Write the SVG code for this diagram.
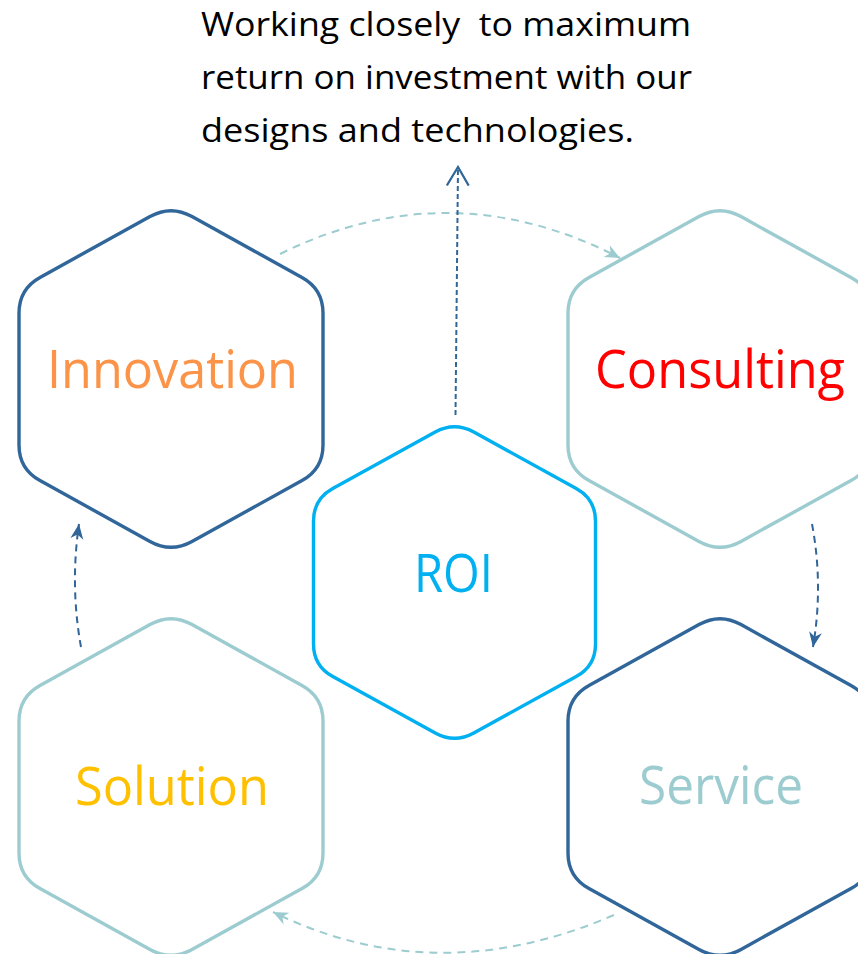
<svg xmlns="http://www.w3.org/2000/svg" xmlns:xlink="http://www.w3.org/1999/xlink" width="858" height="954" viewBox="0 0 858 954">
<style>
.hex{fill:#fff;stroke-width:3.4;stroke-linejoin:round}
.dark{stroke:#306699}
.teal{stroke:#9DCCD0}
.roi{stroke:#00B0F0}
.lbl{font-family:"Open Sans","Noto Sans","Liberation Sans",sans-serif;font-size:53px;text-anchor:middle}
.para{font-family:"Open Sans","Noto Sans","Liberation Sans",sans-serif;font-size:33px;fill:#000;white-space:pre}
.arcT{fill:none;stroke:#9DCCD0;stroke-width:2;stroke-dasharray:8 6}
.arcD{fill:none;stroke:#306699;stroke-width:2;stroke-dasharray:7 5}
.vert{fill:none;stroke:#306699;stroke-width:2;stroke-dasharray:5 3}
</style>
<defs>
<path id="hexL" d="M -21,-162.39 Q 0,-174 21,-162.39 L 131,-101.61 Q 152,-90 152,-66 L 152,66 Q 152,90 131,101.61 L 21,162.39 Q 0,174 -21,162.39 L -131,101.61 Q -152,90 -152,66 L -152,-66 Q -152,-90 -131,-101.61 Z"/>
<path id="hexS" d="M -19.28,-150.4 Q 0,-161 19.28,-150.4 L 121.72,-94.1 Q 141,-83.5 141,-61.5 L 141,61.5 Q 141,83.5 121.72,94.1 L 19.28,150.4 Q 0,161 -19.28,150.4 L -121.72,94.1 Q -141,83.5 -141,61.5 L -141,-61.5 Q -141,-83.5 -121.72,-94.1 Z"/>
<marker id="mTeal" markerUnits="userSpaceOnUse" markerWidth="17" markerHeight="14" refX="15" refY="6.5" orient="auto" viewBox="0 0 17 13">
<path d="M0,0 L15,6.5 L0,13 L4.5,6.5 Z" fill="#9DCCD0"/>
</marker>
<marker id="mDark" markerUnits="userSpaceOnUse" markerWidth="17" markerHeight="14" refX="15" refY="6.5" orient="auto" viewBox="0 0 17 13">
<path d="M0,0 L15,6.5 L0,13 L4.5,6.5 Z" fill="#306699"/>
</marker>
<marker id="mOpen" markerUnits="userSpaceOnUse" markerWidth="22" markerHeight="24" refX="18" refY="11" orient="auto" viewBox="0 0 20 22">
<path d="M1,1 L18,11 L1,21" fill="none" stroke="#306699" stroke-width="2"/>
</marker>
</defs>

<g id="caption">
<text class="para" x="201" y="36" textLength="490" lengthAdjust="spacingAndGlyphs">Working closely  to maximum</text>
<text class="para" x="201" y="89" textLength="491" lengthAdjust="spacingAndGlyphs">return on investment with our</text>
<text class="para" x="201" y="142" textLength="433" lengthAdjust="spacingAndGlyphs">designs and technologies.</text>
</g>

<g id="innovation">
<use xlink:href="#hexL" class="hex dark" transform="translate(171,379)"/>
<text class="lbl" x="172.5" y="388" fill="#FB9349" textLength="251" lengthAdjust="spacingAndGlyphs">Innovation</text>
</g>
<g id="consulting">
<use xlink:href="#hexL" class="hex teal" transform="translate(720,379)"/>
<text class="lbl" x="720" y="388" fill="#FF0000" textLength="250" lengthAdjust="spacingAndGlyphs">Consulting</text>
</g>
<g id="solution">
<use xlink:href="#hexL" class="hex teal" transform="translate(171,787)"/>
<text class="lbl" x="172" y="805" fill="#FFC000" textLength="194" lengthAdjust="spacingAndGlyphs">Solution</text>
</g>
<g id="service">
<use xlink:href="#hexL" class="hex dark" transform="translate(720,787)"/>
<text class="lbl" x="721" y="804" fill="#9DCCD0" textLength="164" lengthAdjust="spacingAndGlyphs">Service</text>
</g>
<g id="roi">
<use xlink:href="#hexS" class="hex roi" transform="translate(454.5,582.5)"/>
<text class="lbl" x="453.5" y="591.5" fill="#00B0F0" textLength="79" lengthAdjust="spacingAndGlyphs">ROI</text>
</g>

<g id="connectors">
<path class="arcT" d="M 280 254 Q 450 170 620 258" marker-end="url(#mTeal)"/>
<path class="vert" d="M 455.5 415 L 458 167" marker-end="url(#mOpen)"/>
<path class="arcD" d="M 812 524 Q 823.5 585 813 647" marker-end="url(#mDark)"/>
<path class="arcD" d="M 81 647 Q 70 586 79 524" marker-end="url(#mDark)"/>
<path class="arcT" d="M 614 915 Q 436 992 273 912" marker-end="url(#mTeal)"/>
</g>
</svg>
